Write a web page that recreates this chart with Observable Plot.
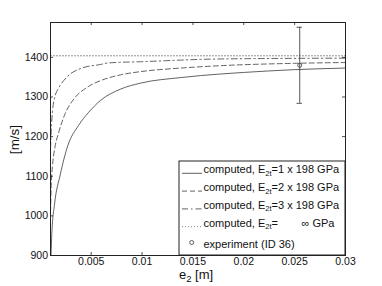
<!DOCTYPE html>
<html><head><meta charset="utf-8">
<script src="https://cdn.jsdelivr.net/npm/d3@7"></script>
<script src="https://cdn.jsdelivr.net/npm/@observablehq/plot@0.6"></script>
<style>body{margin:0;background:#fff} svg{display:block}</style>
</head><body><div id="chart"></div>
<script>
// ---- data ----
const xTicks = [0.005, 0.01, 0.015, 0.02, 0.025, 0.03];
const yTicks = [900, 1000, 1100, 1200, 1300, 1400];

// computed, E2t = 1 x 198 GPa (solid)
const e1 = [0.00105, 0.00113, 0.0014, 0.00195, 0.0027, 0.00375, 0.00474, 0.0059, 0.0079, 0.00985, 0.0138, 0.0177, 0.02, 0.025, 0.03];
const v1 = [900, 955, 1030, 1103, 1177, 1228, 1261, 1291, 1320, 1335, 1349, 1358, 1362, 1369, 1373];
// computed, E2t = 2 x 198 GPa (dashed)
const e2 = [0.001, 0.00107, 0.0012, 0.00145, 0.0018, 0.00244, 0.0033, 0.0047, 0.006, 0.0079, 0.00985, 0.0138, 0.0177, 0.025, 0.03];
const v2 = [1010, 1077, 1127, 1175, 1210, 1258, 1295, 1326, 1342, 1356, 1364, 1373, 1379, 1385, 1387];
// computed, E2t = 3 x 198 GPa (dash-dot)
const e3 = [0.001, 0.0011, 0.0012, 0.00146, 0.00179, 0.0026, 0.00408, 0.0059, 0.0067, 0.00985, 0.0177, 0.03];
const v3 = [1170, 1230, 1265, 1303, 1322, 1350, 1373, 1382, 1386, 1389, 1396, 1398];
// computed, E2t = infinity (dotted)
const e4 = [0.001, 0.03];
const v4 = [1404, 1404];
// experiment (ID 36)
const expE = [0.0255];
const expV = [1380];
const expLow = [1284];
const expHigh = [1476];

const legendValues = ["=1 x 198 GPa", "=2 x 198 GPa", "=3 x 198 GPa", "="];
const legendExp = "experiment (ID 36)";

// ---- chart ----
const W = 382, H = 286;
const mL = 50, mR = 37, mT = 22, mB = 31;
const plotH = H - mT - mB, plotW = W - mL - mR;
const font = "'Liberation Sans', Arial, Helvetica, sans-serif";
const lineColor = "#3a3a3a";

const series = (es, vs) => es.map((e, i) => ({e, v: vs[i]}));
const expData = expE.map((e, i) => ({e, v: expV[i], lo: expLow[i], hi: expHigh[i]}));

const chart = Plot.plot({
  width: W, height: H,
  marginLeft: mL, marginRight: mR, marginTop: mT, marginBottom: mB,
  style: {fontFamily: font, fontSize: "10.5px", color: "#111", background: "#fff"},
  x: {domain: [0.001, 0.03]},
  y: {domain: [900, 1488]},
  marks: [
    Plot.line(series(e4, v4), {x: "e", y: "v", stroke: "#777", strokeWidth: 0.9, strokeDasharray: "1,2", clip: true}),
    Plot.line(series(e3, v3), {x: "e", y: "v", stroke: lineColor, strokeWidth: 0.8, strokeDasharray: "6,3,1.5,3", curve: "monotone-x", clip: true}),
    Plot.line(series(e2, v2), {x: "e", y: "v", stroke: lineColor, strokeWidth: 0.8, strokeDasharray: "5,3", curve: "monotone-x", clip: true}),
    Plot.line(series(e1, v1), {x: "e", y: "v", stroke: lineColor, strokeWidth: 0.8, curve: "monotone-x", clip: true}),
    Plot.ruleX(expData, {x: "e", y1: "lo", y2: "hi", stroke: "#444", strokeWidth: 0.9}),
    Plot.ruleY(expData, {y: "lo", x1: "e", x2: "e", insetLeft: -2.7, insetRight: -2.7, stroke: "#444", strokeWidth: 0.9}),
    Plot.ruleY(expData, {y: "hi", x1: "e", x2: "e", insetLeft: -2.7, insetRight: -2.7, stroke: "#444", strokeWidth: 0.9}),
    Plot.dot(expData, {x: "e", y: "v", r: 2, stroke: "#333", fill: "none", strokeWidth: 0.8}),
    // inward ticks on all four sides
    Plot.tickX(xTicks, {x: d => d, insetTop: plotH - 3, stroke: "#222", strokeWidth: 0.8}),
    Plot.tickX(xTicks, {x: d => d, insetBottom: plotH - 3, stroke: "#222", strokeWidth: 0.8}),
    Plot.tickY(yTicks, {y: d => d, insetRight: plotW - 3, stroke: "#222", strokeWidth: 0.8}),
    Plot.tickY(yTicks, {y: d => d, insetLeft: plotW - 3, stroke: "#222", strokeWidth: 0.8}),
    Plot.axisX({ticks: xTicks, tickSize: 0, tickPadding: 2.5, label: null, tickFormat: d => String(d)}),
    Plot.axisY({ticks: yTicks, tickSize: 0, tickPadding: 2.5, label: null, tickFormat: d => String(d)}),
    Plot.frame({stroke: "#222", strokeWidth: 1})
  ]
});

const svg = d3.select(chart);

// axis labels with subscripts
const xl = svg.append("text").attr("x", 196).attr("y", 279).attr("text-anchor", "middle")
  .attr("font-family", font).attr("font-size", "13px").attr("fill", "#111");
xl.append("tspan").text("e");
xl.append("tspan").attr("font-size", "9.5px").attr("dy", 2.5).text("2");
xl.append("tspan").attr("dy", -2.5).text(" [m]");

svg.append("text").attr("transform", "translate(18.5,139.5) rotate(-90)").attr("text-anchor", "middle")
  .attr("font-family", font).attr("font-size", "13.5px").attr("fill", "#111").text("[m/s]");

// legend
const lg = svg.append("g").attr("font-family", font).attr("font-size", "11px").attr("fill", "#111")
  .attr("text-anchor", "start");
lg.append("rect").attr("x", 179).attr("y", 161).attr("width", 166).attr("height", 94)
  .attr("fill", "#fff").attr("stroke", "#222").attr("stroke-width", 1);
const dashes = [null, "5,3", "6,3,1.5,3", "1,2"];
const strokes = [lineColor, lineColor, lineColor, "#777"];
legendValues.forEach((val, i) => {
  const by = 173.3 + 17.8 * i;
  lg.append("line").attr("x1", 182).attr("x2", 202).attr("y1", by).attr("y2", by)
    .attr("stroke", strokes[i]).attr("stroke-width", i === 3 ? 0.9 : 0.8)
    .attr("stroke-dasharray", dashes[i]);
  const t = lg.append("text").attr("x", 203.5).attr("y", by).attr("text-anchor", "start");
  t.append("tspan").text("computed, E");
  t.append("tspan").attr("font-size", "7.5px").attr("dy", 2.5).text("2t");
  t.append("tspan").attr("dy", -2.5).text(val);
  if (i === 3) {
    lg.append("text").attr("x", 301.5).attr("y", by).attr("text-anchor", "start").text("\u221E GPa");
  }
});
lg.append("circle").attr("cx", 191.7).attr("cy", 242.5).attr("r", 2)
  .attr("fill", "none").attr("stroke", "#333").attr("stroke-width", 0.8);
lg.append("text").attr("x", 203.5).attr("y", 248).attr("text-anchor", "start").text(legendExp);

document.getElementById("chart").appendChild(chart);
</script>
</body></html>
